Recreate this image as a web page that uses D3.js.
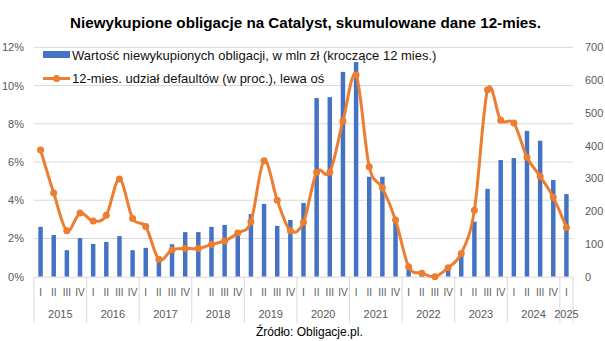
<!DOCTYPE html>
<html><head><meta charset="utf-8">
<script src="https://cdn.jsdelivr.net/npm/d3@7"></script>
<style>
body{margin:0;background:#fff;}
svg{display:block;font-family:"Liberation Sans","DejaVu Sans",sans-serif;}
</style></head>
<body><svg id="c" width="605" height="341"></svg>
<script>
const years = ["2015","2016","2017","2018","2019","2020","2021","2022","2023","2024","2025"];
const quarters = ["I","II","III","IV"];
const bondValues = [152,127,81,118, 100,106,124,81, 88,50,99,136, 136,152,158,135, 191,222,155,173, 225,545,548,625, 655,305,305,170, 30,10,3,26, 66,168,268,356, 362,445,415,295, 252];
const defaultRates = [6.63,4.38,2.41,3.33, 2.91,3.21,5.11,3.05, 2.62,0.91,1.40,1.48, 1.47,1.69,1.87,2.29, 2.88,6.07,4.00,2.41, 2.85,5.46,5.46,8.14, 10.55,5.75,4.65,2.97, 0.52,0.18,0.0,0.47, 1.22,3.47,9.78,8.18, 8.04,6.24,5.25,4.15, 2.58];
const leftTicks = [0,2,4,6,8,10,12];
const rightTicks = [0,100,200,300,400,500,600,700];
const titleText = "Niewykupione obligacje na Catalyst, skumulowane dane 12-mies.";
const legendBars = "Wartość niewykupionych obligacji, w mln zł (kroczące 12 mies.)";
const legendLine = "12-mies. udział defaultów (w proc.), lewa oś";
const sourceText = "Źródło: Obligacje.pl.";

const periods = [];
years.forEach(y => quarters.forEach(q => periods.push({y, q})));
const cats = periods.slice(0, bondValues.length).map((p,i)=>({...p, i, bar: bondValues[i], rate: defaultRates[i]}));

const svg = d3.select("#c");
const L = 34, R = 573, T = 47.3, B = 276.7;
const x = d3.scaleBand().domain(cats.map(d=>d.i)).range([L,R]).paddingInner(0.66).paddingOuter(0.33);
const yL = d3.scaleLinear().domain([0,12]).range([B,T]);
const yR = d3.scaleLinear().domain([0,700]).range([B,T]);
const cx = i => x(i) + x.bandwidth()/2;

// gridlines
svg.append("g").selectAll("line").data(leftTicks.filter(t=>t>0)).join("line")
  .attr("x1",L).attr("x2",R).attr("y1",d=>yL(d)).attr("y2",d=>yL(d))
  .attr("stroke","#d9d9d9").attr("stroke-width",1);

// left axis labels
const gl = svg.append("g").attr("transform",`translate(${L},0)`)
  .call(d3.axisLeft(yL).tickValues(leftTicks).tickFormat(d=>d+"%").tickSize(0).tickPadding(10));
gl.select(".domain").remove();
gl.selectAll("text").attr("fill","#595959").style("font-size","11px").style("font-family","Liberation Sans");

const gr = svg.append("g").attr("transform",`translate(${R},0)`)
  .call(d3.axisRight(yR).tickValues(rightTicks).tickSize(0).tickPadding(12));
gr.select(".domain").remove();
gr.selectAll("text").attr("fill","#595959").style("font-size","11px").style("font-family","Liberation Sans");

// bars
svg.append("g").selectAll("rect").data(cats).join("rect")
  .attr("x",d=>x(d.i)).attr("width",x.bandwidth())
  .attr("y",d=>yR(d.bar)).attr("height",d=>B-yR(d.bar))
  .attr("fill","#4472C4");

// baseline
svg.append("line").attr("x1",L).attr("x2",R).attr("y1",B+0.5).attr("y2",B+0.5).attr("stroke","#d9d9d9");

// year separators
const yearStarts = [];
cats.forEach(d=>{ if(d.q==="I") yearStarts.push(d.i); });
const step = x.step();
const seps = yearStarts.map(i=>cx(i)-step/2).concat([cx(cats.length-1)+step/2]);
svg.append("g").selectAll("line").data(seps).join("line")
  .attr("x1",d=>d).attr("x2",d=>d).attr("y1",B).attr("y2",323)
  .attr("stroke","#d9d9d9");

// quarter labels
svg.append("g").selectAll("text").data(cats).join("text")
  .attr("x",d=>cx(d.i)).attr("y",296).attr("text-anchor","middle")
  .attr("fill","#595959").style("font-size","10px").text(d=>d.q);

// year labels
const yearGroups = d3.groups(cats, d=>d.y);
svg.append("g").selectAll("text").data(yearGroups).join("text")
  .attr("x",d=>(cx(d[1][0].i)+cx(d[1][d[1].length-1].i))/2).attr("y",318).attr("text-anchor","middle")
  .attr("fill","#595959").style("font-size","11px").text(d=>d[0]);

// line
const line = d3.line().x(d=>cx(d.i)).y(d=>yL(d.rate)).curve(d3.curveCardinal.tension(0));
svg.append("path").datum(cats).attr("d",line).attr("fill","none")
  .attr("stroke","#ED7D31").attr("stroke-width",3).attr("stroke-linejoin","round");
svg.append("g").selectAll("circle").data(cats).join("circle")
  .attr("cx",d=>cx(d.i)).attr("cy",d=>yL(d.rate)).attr("r",3.5).attr("fill","#ED7D31");

// legend
svg.append("rect").attr("x",43).attr("y",51).attr("width",27).attr("height",7).attr("fill","#4472C4");
svg.append("text").attr("x",72).attr("y",59.5).attr("fill","#111").style("font-size","13px").text(legendBars);
svg.append("line").attr("x1",43).attr("x2",70).attr("y1",78.5).attr("y2",78.5).attr("stroke","#ED7D31").attr("stroke-width",3);
svg.append("circle").attr("cx",56.5).attr("cy",78.5).attr("r",3.5).attr("fill","#ED7D31");
svg.append("text").attr("x",72).attr("y",83).attr("fill","#111").style("font-size","13px").text(legendLine);

// title
svg.append("text").attr("x",305.5).attr("y",28).attr("text-anchor","middle").attr("fill","#000")
  .style("font-size","15.2px").style("font-weight","bold").text(titleText);

// source
svg.append("text").attr("x",256).attr("y",336).attr("fill","#000").style("font-size","12px").text(sourceText);
</script></body></html>
